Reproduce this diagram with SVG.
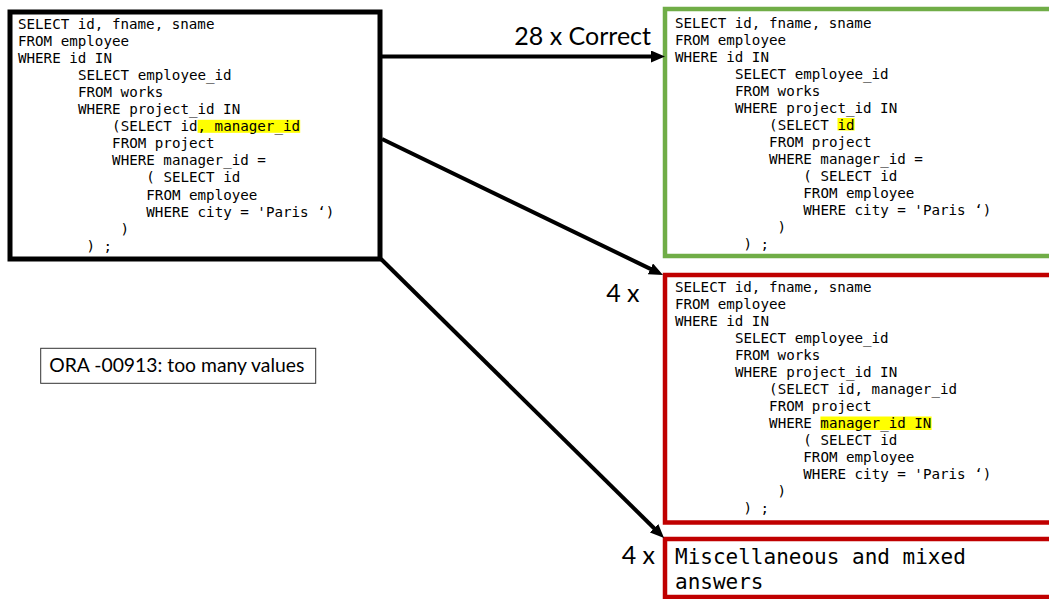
<svg xmlns="http://www.w3.org/2000/svg" width="1049" height="599" viewBox="0 0 1049 599">
  <style>
    .code { font-family: "DejaVu Sans Mono", "Liberation Mono", monospace; font-size: 14.2px; fill: #000; }
    .big { font-family: "DejaVu Sans Mono", "Liberation Mono", monospace; font-size: 21px; fill: #000; }
    .label { font-family: Lato, "Open Sans", "Liberation Sans", sans-serif; font-size: 25px; fill: #000; }
    .note { font-family: Lato, "Open Sans", "Liberation Sans", sans-serif; font-size: 19px; fill: #000; }
    .mark { fill: #FFFF00; }
    .frame { fill: #fff; }
    .conn { stroke: #000; stroke-width: 4; fill: none; marker-end: url(#arrow); }
  </style>
  <defs>
    <marker id="arrow" viewBox="0 0 3.5 3" refX="1" refY="1.5" markerWidth="3.5" markerHeight="3" orient="auto" markerUnits="strokeWidth">
      <path d="M0,0 L3.5,1.5 L0,3 z" fill="#000"/>
    </marker>
  </defs>
  <rect width="1049" height="599" fill="#fff"/>

  <!-- original query -->
  <g id="query-original">
    <rect class="frame" x="10" y="12" width="370" height="247" stroke="#000" stroke-width="5"/>
    <rect class="mark" x="197.6" y="119.8" width="102.6" height="13"/>
    <text class="code" x="18" y="29">SELECT id, fname, sname</text>
    <text class="code" x="18" y="46.05">FROM employee</text>
    <text class="code" x="18" y="63.1">WHERE id IN</text>
    <text class="code" x="77.9" y="80.15">SELECT employee_id</text>
    <text class="code" x="77.9" y="97.2">FROM works</text>
    <text class="code" x="77.9" y="114.25">WHERE project_id IN</text>
    <text class="code" x="112.1" y="131.3">(SELECT id, manager_id</text>
    <text class="code" x="112.1" y="148.35">FROM project</text>
    <text class="code" x="112.1" y="165.4">WHERE manager_id =</text>
    <text class="code" x="146.3" y="182.45">( SELECT id</text>
    <text class="code" x="146.3" y="199.5">FROM employee</text>
    <text class="code" x="146.3" y="216.55">WHERE city = 'Paris ‘)</text>
    <text class="code" x="120.6" y="233.6">)</text>
    <text class="code" x="86.4" y="250.65">) ;</text>
  </g>

  <!-- correct answer -->
  <g id="answer-correct">
    <rect class="frame" x="665" y="9" width="400" height="247" stroke="#70AD47" stroke-width="4.5"/>
    <rect class="mark" x="837.5" y="118" width="17.1" height="12.5"/>
    <text class="code" x="675" y="27.5">SELECT id, fname, sname</text>
    <text class="code" x="675" y="44.5">FROM employee</text>
    <text class="code" x="675" y="61.5">WHERE id IN</text>
    <text class="code" x="734.9" y="78.5">SELECT employee_id</text>
    <text class="code" x="734.9" y="95.5">FROM works</text>
    <text class="code" x="734.9" y="112.5">WHERE project_id IN</text>
    <text class="code" x="769.1" y="129.5">(SELECT id</text>
    <text class="code" x="769.1" y="146.5">FROM project</text>
    <text class="code" x="769.1" y="163.5">WHERE manager_id =</text>
    <text class="code" x="803.3" y="180.5">( SELECT id</text>
    <text class="code" x="803.3" y="197.5">FROM employee</text>
    <text class="code" x="803.3" y="214.5">WHERE city = 'Paris ‘)</text>
    <text class="code" x="777.6" y="231.5">)</text>
    <text class="code" x="743.4" y="248.5">) ;</text>
  </g>

  <!-- wrong answer: IN instead of = -->
  <g id="answer-wrong">
    <rect class="frame" x="665" y="275" width="400" height="247.5" stroke="#C00000" stroke-width="4.5"/>
    <rect class="mark" x="820.4" y="416.5" width="111.2" height="13.5"/>
    <text class="code" x="675" y="291.5">SELECT id, fname, sname</text>
    <text class="code" x="675" y="308.5">FROM employee</text>
    <text class="code" x="675" y="325.5">WHERE id IN</text>
    <text class="code" x="734.9" y="342.5">SELECT employee_id</text>
    <text class="code" x="734.9" y="359.5">FROM works</text>
    <text class="code" x="734.9" y="376.5">WHERE project_id IN</text>
    <text class="code" x="769.1" y="393.5">(SELECT id, manager_id</text>
    <text class="code" x="769.1" y="410.5">FROM project</text>
    <text class="code" x="769.1" y="427.5">WHERE manager_id IN</text>
    <text class="code" x="803.3" y="444.5">( SELECT id</text>
    <text class="code" x="803.3" y="461.5">FROM employee</text>
    <text class="code" x="803.3" y="478.5">WHERE city = 'Paris ‘)</text>
    <text class="code" x="777.6" y="495.5">)</text>
    <text class="code" x="743.4" y="512.5">) ;</text>
  </g>

  <!-- miscellaneous answers -->
  <g id="answer-misc">
    <rect class="frame" x="665" y="539" width="400" height="58" stroke="#C00000" stroke-width="4.5"/>
    <text class="big" x="675" y="563.5">Miscellaneous and mixed</text>
    <text class="big" x="675" y="588.5">answers</text>
  </g>

  <!-- error message -->
  <g id="error-note">
    <rect x="40.7" y="348.3" width="275" height="35" fill="#fff" stroke="#333" stroke-width="1"/>
    <text class="note" x="49.3" y="372.3" textLength="255" lengthAdjust="spacingAndGlyphs">ORA -00913: too many values</text>
  </g>

  <!-- counts -->
  <g id="counts">
    <text class="label" x="651" y="45" text-anchor="end">28 x Correct</text>
    <text class="label" x="639.5" y="301.7" text-anchor="end">4 x</text>
    <text class="label" x="655" y="564" text-anchor="end">4 x</text>
  </g>

  <!-- connectors -->
  <g id="connectors">
    <line class="conn" x1="382" y1="56.5" x2="655" y2="56.5"/>
    <line class="conn" x1="382" y1="139" x2="654" y2="270.6"/>
    <line class="conn" x1="381" y1="259" x2="656.9" y2="531"/>
  </g>
</svg>
